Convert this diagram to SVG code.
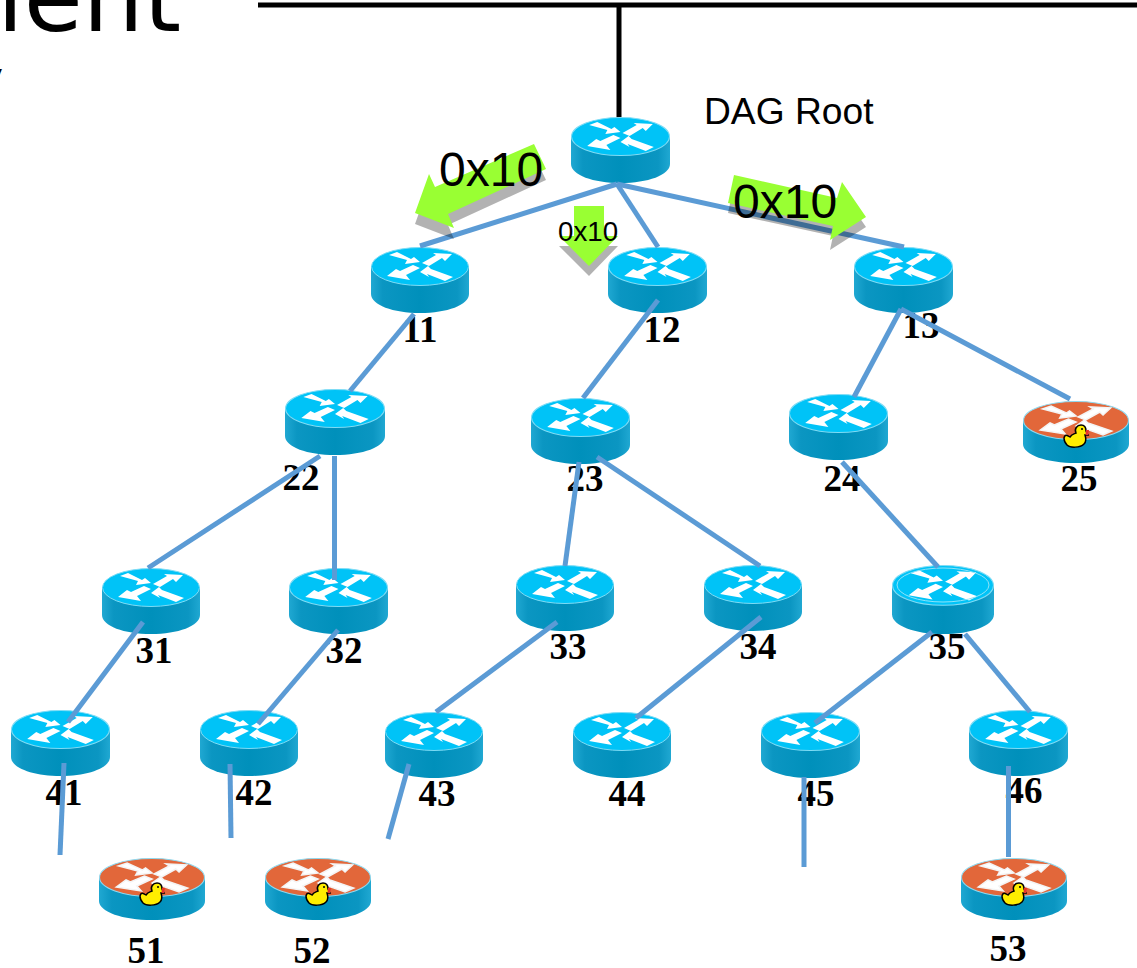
<svg xmlns="http://www.w3.org/2000/svg" width="1137" height="968" viewBox="0 0 1137 968">
<style>
.lbl{font-family:"Liberation Serif",serif;font-weight:bold;font-size:37px;text-anchor:middle;fill:#000}
.sans{font-family:"Liberation Sans",Arial,sans-serif;fill:#000}
.dj{font-family:"DejaVu Sans",sans-serif;fill:#000}
.c line{stroke:#5b9bd5;stroke-width:5}
.k{stroke:#000;fill:none}
.g{fill:#99ff33}
.s{fill:#000;fill-opacity:.3}
</style>
<defs>
<linearGradient id="side" x1="0" x2="1" y1="0" y2="0">
<stop offset="0" stop-color="#20a8d2"/><stop offset=".12" stop-color="#0b96c2"/><stop offset=".5" stop-color="#0090bb"/><stop offset=".88" stop-color="#0b96c2"/><stop offset="1" stop-color="#20a8d2"/>
</linearGradient>
<g id="arr" fill="#fff">
<polygon points="18,8 26,5 40,12 43,10 49,15 34,17 36,13"/>
<polygon points="51,16 65,8 62,6 81,7 74,14 71,11 58,19"/>
<polygon points="16,29 25,22 29,24 42,18 49,21 35,28 39,33"/>
<polygon points="49,25 57,19 60,22 82,30 74,34 56,27 58,30"/>
</g>
<symbol id="r" viewBox="0 0 98 66" preserveAspectRatio="none">
<path d="M0,19 V47 C0,58 22,66 49,66 S98,58 98,47 V19 Z" fill="url(#side)"/>
<ellipse cx="49" cy="19.500" rx="48.500" ry="19" fill="#00c3f7" stroke="#7fdcf5" stroke-width="1"/>
<use href="#arr"/>
</symbol>
<symbol id="o" viewBox="0 0 98 62" preserveAspectRatio="none">
<path d="M0,19 V43 C0,54 22,62 49,62 S98,54 98,43 V19 Z" fill="url(#side)"/>
<ellipse cx="49" cy="19.500" rx="48.500" ry="19" fill="#e2673a" stroke="#8fd8ee" stroke-width="1"/>
<use href="#arr" stroke="#f4f4f4" stroke-width="1.500"/>
</symbol>
<g id="duck">
<path d="M0,13 C1,9 3,10 6,12 C8,9 10,9 12,8 C10,4 13,0 17,0 C21,0 22,3 22,6 L24,10 L21,10 C22,13 23,16 20,19 C16,23 6,23 3,20 C1,18 0,16 0,13 Z" fill="#ffee00" stroke="#000" stroke-width="1.500"/>
<path d="M22,5 L25,5 L24,10 L21.500,10 Z" fill="#e8332b"/>
<circle cx="18" cy="4" r="1" fill="#000"/>
</g>
</defs>

<g id="heading">
<text class="dj" x="-3" y="31" font-size="96">ient</text>
<text class="dj" x="-15" y="86" font-size="30">y</text>
</g>

<g id="backbone" class="k">
<line x1="258" y1="5" x2="1137" y2="5" stroke-width="5"/>
<line x1="619" y1="5" x2="619" y2="118" stroke-width="5"/>
</g>

<g id="nodes">
<g id="root"><use href="#r" x="571" y="117" width="99" height="66"/><text class="sans" x="704" y="124" font-size="37.200">DAG Root</text></g>
<g id="n11"><use href="#r" x="371" y="247" width="98" height="66"/><text class="lbl" x="420" y="342">11</text></g>
<g id="n12"><use href="#r" x="608" y="247" width="99" height="66"/><text class="lbl" x="662" y="342">12</text></g>
<g id="n13"><use href="#r" x="854" y="247" width="99" height="66"/><text class="lbl" x="921" y="338">13</text></g>
<g id="n22"><use href="#r" x="285" y="389" width="100" height="66"/><text class="lbl" x="301" y="490">22</text></g>
<g id="n23"><use href="#r" x="531" y="398" width="99" height="66"/><text class="lbl" x="585" y="491">23</text></g>
<g id="n24"><use href="#r" x="789" y="394" width="99" height="66"/><text class="lbl" x="842" y="491">24</text></g>
<g id="n25"><use href="#o" x="1023" y="401" width="106" height="62"/><use href="#duck" x="1064" y="425"/><text class="lbl" x="1079" y="491">25</text></g>
<g id="n31"><use href="#r" x="102" y="568" width="98" height="66"/><text class="lbl" x="154" y="663">31</text></g>
<g id="n32"><use href="#r" x="289" y="568" width="99" height="66"/><text class="lbl" x="344" y="663">32</text></g>
<g id="n33"><use href="#r" x="516" y="565" width="98" height="66"/><text class="lbl" x="568" y="659">33</text></g>
<g id="n34"><use href="#r" x="704" y="565" width="98" height="66"/><text class="lbl" x="758" y="659">34</text></g>
<g id="n35"><use href="#r" x="892" y="565" width="102" height="69"/><ellipse cx="943" cy="585" rx="46" ry="17" fill="none" stroke="#8fe3f8" stroke-width="1"/><text class="lbl" x="947" y="659">35</text></g>
<g id="n41"><use href="#r" x="11" y="710" width="99" height="66"/><text class="lbl" x="64" y="805">41</text></g>
<g id="n42"><use href="#r" x="200" y="710" width="98" height="66"/><text class="lbl" x="254" y="805">42</text></g>
<g id="n43"><use href="#r" x="385" y="712" width="98" height="66"/><text class="lbl" x="437" y="806">43</text></g>
<g id="n44"><use href="#r" x="573" y="712" width="98" height="66"/><text class="lbl" x="627" y="806">44</text></g>
<g id="n45"><use href="#r" x="761" y="712" width="99" height="66"/><text class="lbl" x="816" y="806">45</text></g>
<g id="n46"><use href="#r" x="969" y="710" width="99" height="66"/><text class="lbl" x="1024" y="803">46</text></g>
<g id="n51"><use href="#o" x="99" y="858" width="106" height="62"/><use href="#duck" x="140" y="883"/><text class="lbl" x="146" y="963">51</text></g>
<g id="n52"><use href="#o" x="265" y="858" width="106" height="62"/><use href="#duck" x="306" y="883"/><text class="lbl" x="312" y="963">52</text></g>
<g id="n53"><use href="#o" x="961" y="858" width="106" height="62"/><use href="#duck" x="1002" y="883"/><text class="lbl" x="1008" y="961">53</text></g>
</g>

<g id="connectors" class="c">
<line x1="617" y1="184" x2="420" y2="246"/>
<line x1="617" y1="184" x2="658" y2="247"/>
<line x1="617" y1="184" x2="904" y2="247"/>
<line x1="414" y1="314" x2="350" y2="391"/>
<line x1="658" y1="300" x2="583" y2="398"/>
<line x1="901" y1="309" x2="854" y2="397"/>
<line x1="901" y1="309" x2="1070" y2="399"/>
<line x1="320" y1="456" x2="148" y2="568"/>
<line x1="334.500" y1="456" x2="334.500" y2="580"/>
<line x1="579" y1="462" x2="565" y2="566"/>
<line x1="597" y1="457" x2="760" y2="566"/>
<line x1="842" y1="462" x2="938" y2="567"/>
<line x1="143" y1="622" x2="68" y2="722"/>
<line x1="338" y1="630" x2="258" y2="724"/>
<line x1="557" y1="622" x2="436" y2="712"/>
<line x1="761" y1="617" x2="636" y2="718"/>
<line x1="932" y1="632" x2="815" y2="723"/>
<line x1="965" y1="634" x2="1030" y2="712"/>
<line x1="64" y1="763" x2="60" y2="855"/>
<line x1="230" y1="764" x2="231" y2="838"/>
<line x1="409" y1="764" x2="388" y2="839"/>
<line x1="804" y1="777" x2="804" y2="867"/>
<line x1="1008.500" y1="766" x2="1008.500" y2="857"/>
</g>

<g id="flow-left">
<polygon class="s" transform="translate(0,11)" points="534,144 546,169 448,214 454,228 415,213 429,174 435,187"/>
<polygon class="g" points="534,144 546,169 448,214 454,228 415,213 429,174 435,187"/>
<text class="sans" x="439" y="186" font-size="48">0x10</text>
</g>
<g id="flow-mid">
<polygon class="s" transform="translate(0,10)" points="574,206 604,206 604,236 618,236 589,266 559,236 574,236"/>
<polygon class="g" points="574,206 604,206 604,236 618,236 589,266 559,236 574,236"/>
<text class="sans" x="558" y="241" font-size="27.700">0x10</text>
</g>
<g id="flow-right">
<polygon class="s" transform="translate(0,10)" points="734,175 728,203 833,226 830,240 866,217 842,182 837,198"/>
<polygon class="g" points="734,175 728,203 833,226 830,240 866,217 842,182 837,198"/>
<text class="sans" x="733" y="218" font-size="48">0x10</text>
</g>
</svg>
